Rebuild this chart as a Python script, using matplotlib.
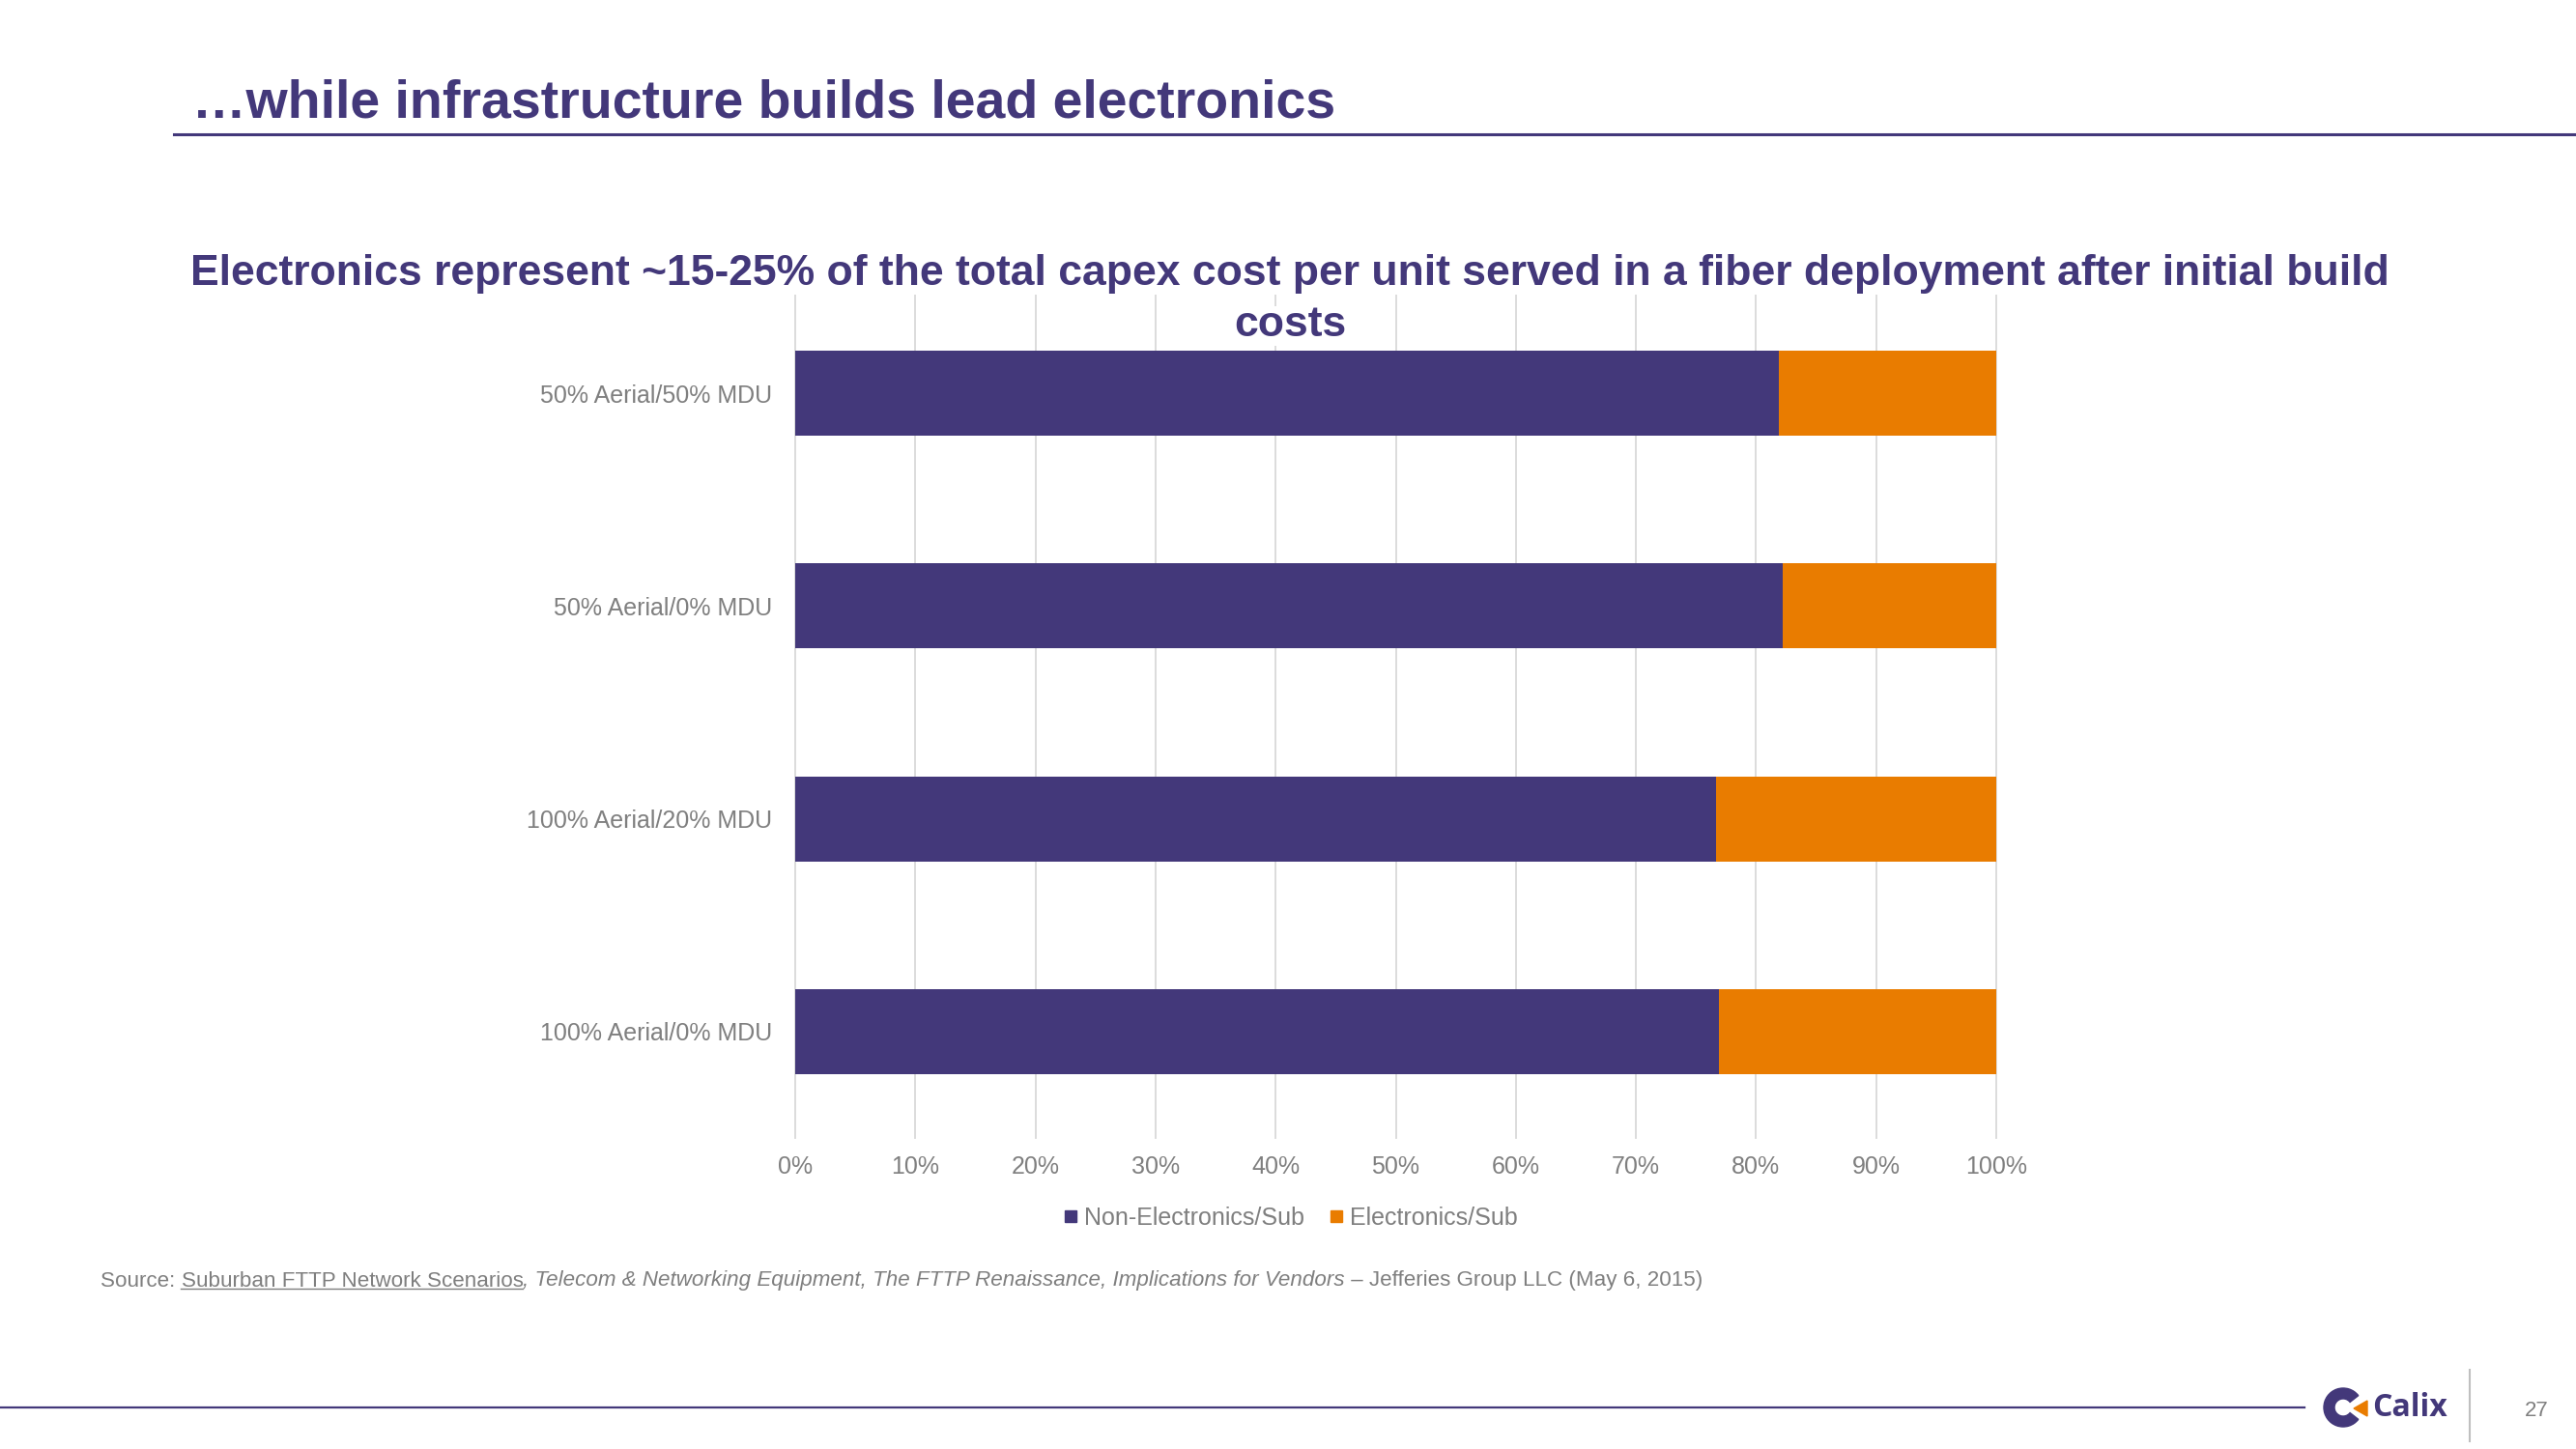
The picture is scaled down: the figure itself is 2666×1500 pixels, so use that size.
import matplotlib
matplotlib.use('Agg')
import matplotlib.pyplot as plt
from matplotlib import font_manager
from matplotlib.lines import Line2D
from matplotlib.patches import Wedge, Polygon
import numpy as np

# ---------------- data ----------------
categories = ["50% Aerial/50% MDU", "50% Aerial/0% MDU",
              "100% Aerial/20% MDU", "100% Aerial/0% MDU"]
non_electronics = [81.9, 82.2, 76.7, 76.9]
electronics = [18.1, 17.8, 23.3, 23.1]
series_names = ["Non-Electronics/Sub", "Electronics/Sub"]
x_ticks = [0, 10, 20, 30, 40, 50, 60, 70, 80, 90, 100]
x_tick_labels = [f"{v}%" for v in x_ticks]

PURPLE = '#43387A'
ORANGE = '#E97C00'
GRID = '#D9D9D9'
GRAY = '#7F7F7F'

names = {f.name for f in font_manager.fontManager.ttflist}
NARROW = 'Liberation Sans Narrow' if 'Liberation Sans Narrow' in names else 'Liberation Sans'
FAM = [NARROW, 'DejaVu Sans']

W, H = 2666, 1500
fig = plt.figure(figsize=(W / 100, H / 100), dpi=100)


def fx(px):
    return px / W


def fy(py):
    return 1 - py / H


# ---------------- chart ----------------
ax = fig.add_axes([fx(823), fy(1178), fx(2066) - fx(823), (1178 - 297) / H])
y = np.arange(len(categories))
ax.barh(y, non_electronics, height=0.4, color=PURPLE, zorder=2)
ax.barh(y, electronics, left=non_electronics, height=0.4, color=ORANGE, zorder=2)
ax.set_xlim(0, 100)
ax.set_ylim(3.5, -0.5)
ax.set_xticks(x_ticks)
ax.set_xticklabels(x_tick_labels)
ax.set_yticks(y)
ax.set_yticklabels(categories)
ax.grid(axis='x', color=GRID, lw=1.3)
ax.grid(axis='y', visible=False)
ax.set_axisbelow(True)
for gl in ax.get_xgridlines():
    gl.set_clip_on(False)
for s in ax.spines.values():
    s.set_visible(False)
ax.tick_params(length=0, colors=GRAY, labelsize=18)
ax.tick_params(axis='y', pad=17)
ax.tick_params(axis='x', pad=13)
for lab in ax.get_xticklabels() + ax.get_yticklabels():
    lab.set_family(FAM)

# legend
handles = [Line2D([], [], marker='s', ls='', color=c, markersize=8) for c in (PURPLE, ORANGE)]
fig.legend(handles, series_names, loc='center', bbox_to_anchor=(fx(1335), fy(1261)),
           ncol=2, frameon=False, prop={'family': FAM, 'size': 18}, labelcolor=GRAY,
           handlelength=0.7, handletextpad=0.2, columnspacing=1.0)

# ---------------- titles ----------------
fig.text(fx(199), fy(108), "\u2026while infrastructure builds lead electronics",
         fontsize=40, fontweight='bold', color=PURPLE, family=FAM, va='center', ha='left')
fig.add_artist(Line2D([fx(180), 1], [fy(139), fy(139)], color=PURPLE, lw=2.2))

fig.text(fx(1335), fy(284),
         "Electronics represent ~15-25% of the total capex cost per unit served in a fiber deployment after initial build",
         fontsize=32, fontweight='bold', color=PURPLE, family=FAM, ha='center', va='center',
         bbox=dict(facecolor='white', edgecolor='none', pad=0))
fig.text(fx(1335), fy(337), "costs",
         fontsize=32, fontweight='bold', color=PURPLE, family=FAM, ha='center', va='center',
         bbox=dict(facecolor='white', edgecolor='none', pad=0))

# ---------------- source ----------------
SRC = 16.1
t0 = fig.text(fx(104), fy(1326), "Source: ", fontsize=SRC, color=GRAY, family=FAM, va='center')
t1 = ax.annotate("Suburban FTTP Network Scenarios", xy=(1, 0), xycoords=t0, va='bottom', ha='left',
                 fontsize=SRC, color=GRAY, family=FAM, annotation_clip=False)
t2 = ax.annotate(", Telecom & Networking Equipment, The FTTP Renaissance, Implications for Vendors",
                 xy=(1, 0), xycoords=t1, va='bottom', ha='left', fontsize=SRC, color=GRAY,
                 family=FAM, style='italic', annotation_clip=False)
t3 = ax.annotate(" \u2013 Jefferies Group LLC (May 6, 2015)", xy=(1, 0), xycoords=t2, va='bottom',
                 ha='left', fontsize=SRC, color=GRAY, family=FAM, annotation_clip=False)

fig.canvas.draw()
bb = t1.get_window_extent()
uy = (bb.y0 + 0.12 * bb.height) / H
fig.add_artist(Line2D([bb.x0 / W, bb.x1 / W], [uy, uy], color=GRAY, lw=1.0))

# ---------------- footer ----------------
fig.add_artist(Line2D([0, fx(2385)], [fy(1457), fy(1457)], color=PURPLE, lw=1.6))
fig.add_artist(Line2D([fx(2556), fx(2556)], [fy(1418), fy(1492)], color='#BFBFBF', lw=1.5))
fig.text(fx(2625), fy(1460), "27", fontsize=16, color=GRAY, ha='center', va='center',
         family=['Liberation Sans', 'DejaVu Sans'])

lax = fig.add_axes([fx(2400), fy(1490), 60 / W, 60 / H])
lax.set_xlim(0, 60)
lax.set_ylim(60, 0)
lax.axis('off')
lax.add_patch(Wedge((25, 27), 20, 38, 322, width=11, color=PURPLE))
lax.add_patch(Polygon([(50, 20), (50, 36), (36, 28)], closed=True, color=ORANGE))
fig.text(fx(2455), fy(1458), "Calix", fontsize=23, fontweight='bold', color=PURPLE,
         ha='left', va='center', family=['Open Sans', 'DejaVu Sans'])

fig.savefig('out.png', dpi=100)
